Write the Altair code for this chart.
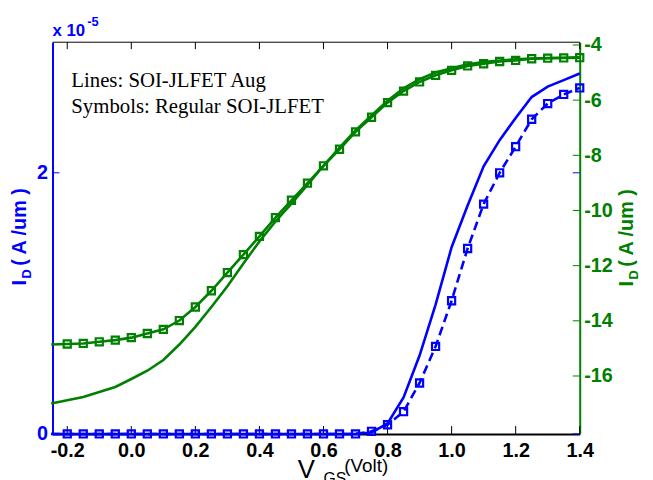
import altair as alt
import pandas as pd

# ---------------- data ----------------
v_gs = [-0.25, -0.2, -0.15, -0.1, -0.05, 0.0, 0.05, 0.1, 0.15, 0.2, 0.25, 0.3,
        0.35, 0.4, 0.45, 0.5, 0.55, 0.6, 0.65, 0.7, 0.75, 0.8, 0.85, 0.9, 0.95,
        1.0, 1.05, 1.1, 1.15, 1.2, 1.25, 1.3, 1.35, 1.4]

# linear I_D (x 1e-5 A/um)
blue_aug = [0, 0, 0, 0, 0, 0, 0, 0, 0, 0, 0, 0, 0, 0, 0, 0, 0, 0, 0, 0,
            0.01, 0.08, 0.28, 0.6, 0.99, 1.43, 1.75, 2.05, 2.25, 2.42, 2.58, 2.66, 2.71, 2.76]
blue_reg = [0, 0, 0, 0, 0, 0, 0, 0, 0, 0, 0, 0, 0, 0, 0, 0, 0, 0, 0, 0,
            0.02, 0.07, 0.17, 0.39, 0.67, 1.02, 1.42, 1.76, 2.0, 2.2, 2.41, 2.53, 2.6, 2.65]

# log10 I_D
green_aug = [-17.0, -16.88, -16.76, -16.58, -16.4, -16.11, -15.81, -15.42, -14.86, -14.22,
             -13.5, -12.75, -11.92, -11.12, -10.4, -9.75, -9.07, -8.38, -7.72, -7.1,
             -6.55, -6.02, -5.57, -5.24, -5.0, -4.84, -4.7, -4.62, -4.56, -4.52,
             -4.49, -4.47, -4.46, -4.45]
green_reg = [-14.86, -14.84, -14.82, -14.76, -14.70, -14.61, -14.46, -14.31, -13.99, -13.5,
             -12.91, -12.25, -11.6, -10.94, -10.26, -9.63, -9.01, -8.38, -7.78, -7.15,
             -6.62, -6.09, -5.67, -5.34, -5.1, -4.92, -4.76, -4.68, -4.6, -4.56,
             -4.5, -4.48, -4.47, -4.46]

x_ticks = [-0.2, 0, 0.2, 0.4, 0.6, 0.8, 1.0, 1.2, 1.4]
left_ticks = [0, 2]
right_ticks = [-16, -14, -12, -10, -8, -6, -4]

# ---------------- styling ----------------
BLUE = "#0000ff"
GREEN = "#008000"
W, H = 533, 396
NARROW = "Liberation Sans Narrow, Liberation Sans, Arial"
SANS = "Liberation Sans, Arial"
SERIF = "Liberation Serif, Times New Roman"
MINUS = "replace(datum.label, '\u2212', '-')"

df_line = pd.DataFrame({"V": v_gs, "blue_aug": blue_aug, "blue_reg": blue_reg,
                        "green_aug": green_aug, "green_reg": green_reg})
df_mark = df_line.iloc[1:]
df_xt = pd.DataFrame({"t": x_ticks})
df_lt = pd.DataFrame({"t": left_ticks})
df_rt = pd.DataFrame({"t": right_ticks})
df_one = pd.DataFrame({"a": [0]})

xs = alt.Scale(domain=[-0.246, 1.4], nice=False, zero=False)
yb = alt.Scale(domain=[0, 3], nice=False, zero=False)
yg = alt.Scale(domain=[-18.1, -3.9], nice=False, zero=False)

xaxis = alt.Axis(values=x_ticks, title=None, ticks=False, grid=False, domainColor="black",
                 domainWidth=2, labelColor="black", labelFont=NARROW, labelFontWeight="bold",
                 labelFontSize=20, labelPadding=7, labelExpr=MINUS, labelFlush=False,
                 labelOverlap=False)
laxis = alt.Axis(orient="left", values=left_ticks, title=None, ticks=False, grid=False,
                 domainColor=BLUE, domainWidth=2, labelColor=BLUE, labelFont=NARROW,
                 labelFontWeight="bold", labelFontSize=20, labelPadding=5, labelOverlap=False)
raxis = alt.Axis(orient="right", values=right_ticks, title=None, ticks=False, grid=False,
                 domainColor=GREEN, domainWidth=2, labelColor=GREEN, labelFont=NARROW,
                 labelFontWeight="bold", labelFontSize=20, labelPadding=4, labelExpr=MINUS,
                 labelOverlap=False)

X = alt.X("V:Q", scale=xs, axis=xaxis)

# ---- blue (left, linear) ----
b_aug = alt.Chart(df_line).mark_line(color=BLUE, strokeWidth=2.6).encode(
    x=X, y=alt.Y("blue_aug:Q", scale=yb, axis=laxis))
b_reg = alt.Chart(df_line).mark_line(color=BLUE, strokeWidth=2.6, strokeDash=[9, 5]).encode(
    x=X, y=alt.Y("blue_reg:Q", scale=yb, axis=laxis))
b_pts = alt.Chart(df_mark).mark_point(shape="square", size=52, filled=False, color=BLUE,
                                      strokeWidth=2.2, opacity=1).encode(
    x=X, y=alt.Y("blue_reg:Q", scale=yb, axis=laxis))
lt_left = alt.Chart(df_lt).mark_rule(color=BLUE, strokeWidth=1).encode(
    y=alt.Y("t:Q", scale=yb, axis=laxis), x=alt.value(0), x2=alt.value(7))
lt_right = alt.Chart(df_lt).mark_rule(color=BLUE, strokeWidth=1).encode(
    y=alt.Y("t:Q", scale=yb, axis=laxis), x=alt.value(W - 7), x2=alt.value(W))
xt_bot = alt.Chart(df_xt).mark_rule(color="black", strokeWidth=1).encode(
    x=alt.X("t:Q", scale=xs, axis=xaxis), y=alt.value(H - 8), y2=alt.value(H))
xt_top = alt.Chart(df_xt).mark_rule(color="black", strokeWidth=1).encode(
    x=alt.X("t:Q", scale=xs, axis=xaxis), y=alt.value(0), y2=alt.value(7))
blue_layer = alt.layer(xt_bot, xt_top, lt_left, lt_right, b_aug, b_reg, b_pts)

# ---- green (right, log10) ----
g_aug = alt.Chart(df_line).mark_line(color=GREEN, strokeWidth=2.6).encode(
    x=X, y=alt.Y("green_aug:Q", scale=yg, axis=raxis))
g_reg = alt.Chart(df_line).mark_line(color=GREEN, strokeWidth=2.6).encode(
    x=X, y=alt.Y("green_reg:Q", scale=yg, axis=raxis))
g_pts = alt.Chart(df_mark).mark_point(shape="square", size=52, filled=False, color=GREEN,
                                      strokeWidth=2.2, opacity=1).encode(
    x=X, y=alt.Y("green_reg:Q", scale=yg, axis=raxis))
rt = alt.Chart(df_rt).mark_rule(color=GREEN, strokeWidth=1).encode(
    y=alt.Y("t:Q", scale=yg, axis=raxis), x=alt.value(W - 7), x2=alt.value(W))
green_layer = alt.layer(rt, g_aug, g_reg, g_pts)

# ---- frame & text ----
top_border = alt.Chart(df_one).mark_rule(color="black", strokeWidth=1).encode(
    x=alt.value(0), x2=alt.value(W), y=alt.value(0))


def txt(s, x, y, size, color="black", font=SANS, weight="normal", angle=0, align="left"):
    return alt.Chart(df_one).mark_text(text=s, fontSize=size, font=font, fontWeight=weight,
                                       color=color, angle=angle, align=align,
                                       baseline="alphabetic").encode(
        x=alt.value(x), y=alt.value(y))


texts = [
    txt("Lines: SOI-JLFET Aug", 19, 45, 21, font=SERIF),
    txt("Symbols: Regular SOI-JLFET", 19, 72, 21, font=SERIF),
    txt("x 10", 0, -6, 17, color=BLUE, weight="bold"),
    txt("-5", 35, -16, 13, color=BLUE, weight="bold"),
    # left y title
    txt("I", -27, 246, 20, color=BLUE, weight="bold", angle=270),
    txt("D", -22, 239, 13, color=BLUE, weight="bold", angle=270),
    txt("( A /um )", -27, 226, 20, color=BLUE, weight="bold", angle=270),
    # right y title
    txt("I", 587, 247, 20, color=GREEN, weight="bold", angle=270),
    txt("D", 592, 240, 13, color=GREEN, weight="bold", angle=270),
    txt("( A /um )", 587, 227, 20, color=GREEN, weight="bold", angle=270),
    # x title
    txt("V", 248, 441, 26),
    txt("GS", 274, 447, 16),
    txt("(Volt)", 295, 434, 19),
]

chart = alt.layer(blue_layer, green_layer, top_border, *texts).resolve_scale(
    y="independent"
).properties(
    width=W, height=H,
    autosize=alt.AutoSizeParams(type="none"),
    padding={"left": 45, "top": 32, "right": 66, "bottom": 44},
).configure_view(stroke=None)

chart.save("out.html", embed_options={"renderer": "svg", "actions": False})
